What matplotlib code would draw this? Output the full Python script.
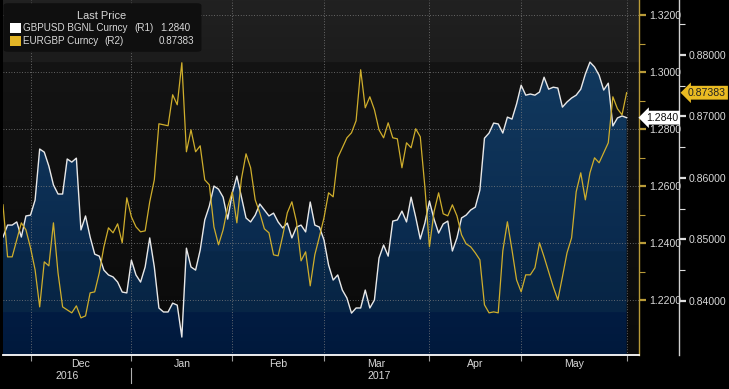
import numpy as np
import pandas as pd
import matplotlib
matplotlib.use("Agg")
import matplotlib.pyplot as plt
import matplotlib.transforms as mtransforms
from matplotlib.colors import to_rgb
from matplotlib.patches import FancyBboxPatch, Rectangle
from matplotlib.ticker import FormatStrFormatter

plt.rcParams['font.family'] = ['Liberation Sans', 'DejaVu Sans']

# daily closes (business days, 22 Nov 2016 - 31 May 2017)
gbpusd = [
    1.2421, 1.2463, 1.2463, 1.2474, 1.2421, 1.2495, 1.2498, 1.2551, 1.2730, 1.2719,
    1.2670, 1.2604, 1.2572, 1.2572, 1.2695, 1.2684, 1.2698, 1.2446, 1.2495, 1.2421,
    1.2361, 1.2354, 1.2305, 1.2288, 1.2281, 1.2263, 1.2228, 1.2225, 1.2340, 1.2288,
    1.2263, 1.2316, 1.2418, 1.2316, 1.2172, 1.2158, 1.2158, 1.2189, 1.2182, 1.2070,
    1.2382, 1.2316, 1.2305, 1.2375, 1.2481, 1.2530, 1.2600, 1.2589, 1.2561, 1.2484,
    1.2575, 1.2635, 1.2561, 1.2488, 1.2474, 1.2498, 1.2537, 1.2516, 1.2495, 1.2505,
    1.2474, 1.2453, 1.2470, 1.2418, 1.2456, 1.2463, 1.2439, 1.2544, 1.2463, 1.2456,
    1.2411, 1.2323, 1.2270, 1.2288, 1.2235, 1.2207, 1.2154, 1.2172, 1.2172, 1.2235,
    1.2172, 1.2200, 1.2347, 1.2393, 1.2354, 1.2477, 1.2481, 1.2512, 1.2474, 1.2561,
    1.2491, 1.2414, 1.2470, 1.2547, 1.2484, 1.2435, 1.2467, 1.2477, 1.2372, 1.2418,
    1.2488, 1.2498, 1.2516, 1.2526, 1.2586, 1.2768, 1.2786, 1.2821, 1.2818, 1.2786,
    1.2842, 1.2835, 1.2888, 1.2954, 1.2919, 1.2923, 1.2919, 1.2930, 1.2982, 1.2940,
    1.2947, 1.2944, 1.2877, 1.2895, 1.2909, 1.2919, 1.2940, 1.2993, 1.3035, 1.3018,
    1.2989, 1.2937, 1.2961, 1.2811, 1.2839, 1.2846, 1.2840,
]
eurgbp = [
    0.85561, 0.84715, 0.84715, 0.84992, 0.85268, 0.85154, 0.84862, 0.84504, 0.83902, 0.84634,
    0.84569, 0.85268, 0.84455, 0.83902, 0.83854, 0.83805, 0.83919, 0.83724, 0.83756, 0.84130,
    0.84146, 0.84455, 0.84878, 0.85187, 0.85106, 0.85252, 0.84943, 0.85675, 0.85366, 0.85203,
    0.85122, 0.85138, 0.85610, 0.85967, 0.86878, 0.86862, 0.86846, 0.87350, 0.87187, 0.87870,
    0.86423, 0.86780, 0.86423, 0.86520, 0.85967, 0.85886, 0.85203, 0.84911, 0.85154, 0.85528,
    0.85772, 0.85268, 0.85984, 0.86390, 0.86163, 0.85642, 0.85431, 0.85171, 0.85106, 0.84748,
    0.84732, 0.85057, 0.85431, 0.85610, 0.85285, 0.84650, 0.84797, 0.84244, 0.84748, 0.85041,
    0.85350, 0.85756, 0.85691, 0.86325, 0.86488, 0.86650, 0.86732, 0.86927, 0.87756, 0.87138,
    0.87317, 0.87106, 0.86780, 0.86650, 0.86894, 0.86650, 0.86634, 0.86163, 0.86569, 0.86488,
    0.86797, 0.86667, 0.85854, 0.84878, 0.85447, 0.85756, 0.85415, 0.85382, 0.85561, 0.85382,
    0.85073, 0.84927, 0.84878, 0.84780, 0.84667, 0.83935, 0.83805, 0.83821, 0.83805, 0.84813,
    0.85285, 0.84829, 0.84341, 0.84146, 0.84423, 0.84423, 0.84537, 0.84943, 0.84715, 0.84472,
    0.84228, 0.84016, 0.84390, 0.84780, 0.85024, 0.85772, 0.86081, 0.85642, 0.86081, 0.86325,
    0.86244, 0.86407, 0.86569, 0.87317, 0.87122, 0.87024, 0.87383,
]
month_names = ['Dec', 'Jan', 'Feb', 'Mar', 'Apr', 'May']
r1_ticks = [1.22, 1.24, 1.26, 1.28, 1.30, 1.32]
r2_ticks = [0.84, 0.85, 0.86, 0.87, 0.88]
legend_names = ['GBPUSD BGNL Curncy', 'EURGBP Curncy']

W, H = 729, 389
WHITE = '#e8e8e8'
GOLD = '#cfae2c'
GOLD_AX = '#b99b38'
TXT = '#d8d8d8'
FS = 7.6   # axis text
LFS = 7.1  # legend text

n = len(gbpusd)
x = np.arange(n)
dates = pd.bdate_range(end='2017-05-31', periods=n)
pos = pd.Series(x, index=dates)
month_end = pos.groupby(dates.to_period('M')).max().values
month_mid = (month_end[:-1] + month_end[1:]) / 2
year_break = month_end[1]

XMAX = 138.7
Y1 = (1.2007, 1.3253)
Y2 = (0.8312, 0.8889)

fig = plt.figure(figsize=(W / 100, H / 100), dpi=100, facecolor='black')
ax = fig.add_axes([3 / W, 34 / H, 636 / W, 355 / H])
ax2 = ax.twinx()
ax.yaxis.tick_right()
ax.yaxis.set_label_position('right')
ax.patch.set_facecolor('black')


def ramp(stops, rows=355):
    r = np.arange(rows)
    p = [s[0] for s in stops]
    cols = np.array([to_rgb(s[1]) for s in stops])
    return np.stack([np.interp(r, p, cols[:, k]) for k in range(3)], axis=1)[:, None, :]


bg = np.vstack([ramp([(0, '#212121'), (61, '#1c1c1c')], 62),
                ramp([(0, '#141414'), (292, '#0a0a0a')], 293)])
fill = np.vstack([ramp([(0, '#143e64'), (250, '#0a2a4e')], 251),
                  ramp([(0, '#092849'), (60, '#072545')], 61),
                  ramp([(0, '#021c42'), (42, '#00193c')], 43)])

ext = [0, XMAX, Y1[0], Y1[1]]
ax.imshow(bg, extent=ext, aspect='auto', zorder=0, interpolation='nearest')
poly = ax.fill_between(x, gbpusd, Y1[0], facecolor='none', edgecolor='none')
img = ax.imshow(fill, extent=ext, aspect='auto', zorder=1.2, interpolation='nearest')
img.set_clip_path(poly.get_paths()[0], transform=ax.transData)
ax.plot(x, gbpusd, color=WHITE, lw=1.0, zorder=3)
ax2.plot(x, eurgbp, color=GOLD, lw=0.9, zorder=3)

ax.set_xlim(0, XMAX)
ax.set_ylim(*Y1)
ax2.set_ylim(*Y2)

# grid
ax.grid(True, which='major', color='#808080', lw=0.6, ls=(0, (1, 2.2)), zorder=1.5)

# x axis
ax.set_xticks(month_end)
ax.set_xticklabels([])
ax.set_xticks(month_mid, minor=True)
ax.set_xticklabels(month_names, minor=True)
ax.tick_params(axis='x', which='major', length=4, color='#a0a0a0', width=0.8)
ax.tick_params(axis='x', which='minor', length=0, labelcolor=TXT, labelsize=FS, pad=3)

blend = mtransforms.blended_transform_factory(ax.transData, ax.transAxes)
ax.plot([year_break, year_break], [-0.037, -0.08], transform=blend, clip_on=False,
        color='#b0b0b0', lw=0.8)
ax.text(year_break / 2, -0.058, '2016', transform=blend, ha='center', va='center',
        color=TXT, fontsize=FS)
ax.text((year_break + month_end[-1]) / 2, -0.058, '2017', transform=blend, ha='center',
        va='center', color=TXT, fontsize=FS)

# R1 axis (gold)
ax.set_yticks(r1_ticks)
ax.set_yticks(np.array(r1_ticks[:-1]) + 0.01, minor=True)
ax.yaxis.set_major_formatter(FormatStrFormatter('%.4f'))
ax.tick_params(axis='y', which='major', length=5, width=1.6, color=GOLD_AX,
               labelcolor=TXT, labelsize=FS, pad=2)
ax.tick_params(axis='y', which='minor', length=4, width=0.8, color=GOLD_AX)

# R2 axis (white)
ax2.spines['right'].set_position(('outward', 28.8))
ax2.set_yticks(r2_ticks)
ax2.set_yticks(np.array(r2_ticks) + 0.005, minor=True)
ax2.yaxis.set_major_formatter(FormatStrFormatter('%.5f'))
ax2.tick_params(axis='y', which='major', length=5, width=1.6, color='#dddddd',
                labelcolor=TXT, labelsize=FS, pad=2)
ax2.tick_params(axis='y', which='minor', length=4, width=0.8, color='#dddddd')

for a in (ax, ax2):
    for s in ('top', 'left'):
        a.spines[s].set_visible(False)
ax2.spines['bottom'].set_visible(False)
ax.spines['bottom'].set_color('white')
ax.spines['bottom'].set_linewidth(1.3)
ax.spines['right'].set_color(GOLD_AX)
ax.spines['right'].set_linewidth(1.0)
ax2.spines['right'].set_color('#d0d0d0')
ax2.spines['right'].set_linewidth(1.0)

# last value tags
t1 = mtransforms.blended_transform_factory(fig.transFigure, ax.transData)
t2 = mtransforms.blended_transform_factory(fig.transFigure, ax2.transData)
fig.text(662 / W, gbpusd[-1], f'{gbpusd[-1]:.4f}', transform=t1, ha='center', va='center',
         fontsize=FS, color='#111111', zorder=6,
         bbox=dict(boxstyle='larrow,pad=0.18', fc='white', ec='none'))
fig.text(707 / W, eurgbp[-1], f'{eurgbp[-1]:.5f}', transform=t2, ha='center', va='center',
         fontsize=FS, color='#222222', zorder=6,
         bbox=dict(boxstyle='larrow,pad=0.18', fc='#eabb22', ec='none'))


# legend box
def fx(px):
    return px / W


def fy(py):
    return 1 - py / H


fig.add_artist(FancyBboxPatch((fx(5), fy(51)), fx(195), 47 / H,
                              boxstyle='round,pad=0.002,rounding_size=0.006',
                              transform=fig.transFigure, fc='#0f0f0f', ec='none', zorder=5))
fig.text(fx(102), fy(16), 'Last Price', ha='center', va='center', color=TXT, fontsize=LFS + 0.8, zorder=6)
for row, (name, col) in enumerate(zip(legend_names, ['white', '#e3b526'])):
    yc = 28 + row * 13
    fig.add_artist(Rectangle((fx(10), fy(yc + 5)), 11 / W, 10 / H, transform=fig.transFigure,
                             fc=col, ec='none', zorder=6))
    fig.text(fx(23), fy(yc), name, ha='left', va='center', color=TXT, fontsize=LFS, zorder=6)
fig.text(fx(134), fy(28), '(R1)', ha='left', va='center', color=TXT, fontsize=LFS, zorder=6)
fig.text(fx(190), fy(28), f'{gbpusd[-1]:.4f}', ha='right', va='center', color=TXT, fontsize=LFS, zorder=6)
fig.text(fx(104), fy(41), '(R2)', ha='left', va='center', color=TXT, fontsize=LFS, zorder=6)
fig.text(fx(194), fy(41), f'{eurgbp[-1]:.5f}', ha='right', va='center', color=TXT, fontsize=LFS, zorder=6)

fig.savefig('out.png', dpi=100, facecolor='black')
